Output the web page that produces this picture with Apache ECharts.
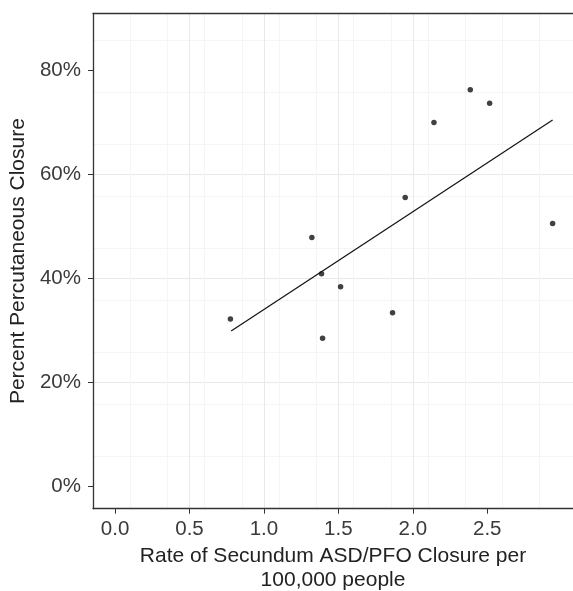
<!DOCTYPE html>
<html>
<head>
<meta charset="utf-8">
<script src="https://cdn.jsdelivr.net/npm/echarts@6/dist/echarts.min.js"></script>
<style>
  html, body { margin: 0; padding: 0; background: #fff; }
  #myChart { width: 573px; height: 591px; }
</style>
</head>
<body>
<div id="myChart"></div>
<script>
// 数据：每个州的比率 / 经皮闭合百分比
var rateX = [0.775, 1.322, 1.387, 1.394, 1.515, 1.864, 1.949, 2.142, 2.386, 2.516, 2.939];
var pctY = [32.1, 47.8, 40.8, 28.4, 38.3, 33.3, 55.5, 69.9, 76.2, 73.6, 50.5];
// 回归线两端
var fitX = [0.78, 2.939];
var fitY = [29.8, 70.4];
// 刻度
var xTicks = [0, 0.5, 1, 1.5, 2, 2.5];
var yTicks = [0, 20, 40, 60, 80];

var xMin = -0.148, xMax = 3.076;
var yMin = -4.37, yMax = 90.87;

var font = 'Liberation Sans, Arial, Helvetica, sans-serif';
var majorGrid = '#e9e9e9';
var minorGrid = '#f5f5f5';

var points = rateX.map(function (x, i) { return [x, pctY[i]]; });
var fitLine = fitX.map(function (x, i) { return [x, fitY[i]]; });

var myChart = echarts.init(document.getElementById('myChart'));
myChart.setOption({
    animation: false,
    backgroundColor: '#fff',
    grid: { left: 93, top: 13.5, right: 0, bottom: 82.3, outerBoundsMode: 'none', containLabel: false },
    xAxis: [{
        // 次网格线 + 上边框
        type: 'value', position: 'top', min: xMin, max: xMax, interval: 0.25,
        axisLine: { show: true, onZero: false, lineStyle: { color: '#333', width: 1.3 } },
        axisTick: { show: false },
        axisLabel: { show: false },
        splitLine: { show: true, showMinLine: false, showMaxLine: false, lineStyle: { color: minorGrid, width: 1 } }
    }, {
        type: 'value', position: 'bottom', min: xMin, max: xMax, interval: 0.5,
        name: 'Rate of Secundum ASD/PFO Closure per\n100,000 people',
        nameLocation: 'middle', nameGap: 35,
        nameTextStyle: { fontFamily: font, fontSize: 21, color: '#222', lineHeight: 24 },
        axisLine: { show: true, onZero: false, lineStyle: { color: '#333', width: 1.3 } },
        axisTick: { show: true, length: 5, customValues: xTicks, lineStyle: { color: '#333' } },
        axisLabel: {
            customValues: xTicks, margin: 10, fontFamily: font, fontSize: 20.5, color: '#3a3a3a',
            formatter: function (v) { return v.toFixed(1); }
        },
        splitLine: { show: true, showMinLine: false, showMaxLine: false, lineStyle: { color: majorGrid, width: 1 } }
    }],
    yAxis: [{
        type: 'value', position: 'right', min: yMin, max: yMax, interval: 10,
        axisLine: { show: false, onZero: false },
        axisTick: { show: false },
        axisLabel: { show: false },
        splitLine: { show: true, showMinLine: false, showMaxLine: false, lineStyle: { color: minorGrid, width: 1 } }
    }, {
        type: 'value', position: 'left', min: yMin, max: yMax, interval: 20,
        name: 'Percent Percutaneous Closure',
        nameLocation: 'middle', nameGap: 63,
        nameTextStyle: { fontFamily: font, fontSize: 21, color: '#222' },
        axisLine: { show: true, onZero: false, lineStyle: { color: '#333', width: 1.3 } },
        axisTick: { show: true, length: 5, customValues: yTicks, lineStyle: { color: '#333' } },
        axisLabel: {
            customValues: yTicks, margin: 12, fontFamily: font, fontSize: 20.5, color: '#3a3a3a',
            formatter: function (v) { return Math.round(v) + '%'; }
        },
        splitLine: { show: true, showMinLine: false, showMaxLine: false, lineStyle: { color: majorGrid, width: 1 } }
    }],
    series: [{
        type: 'scatter', xAxisIndex: 1, yAxisIndex: 1,
        data: points, symbolSize: 5.5,
        itemStyle: { color: '#111' }
    }, {
        type: 'line', xAxisIndex: 1, yAxisIndex: 1,
        data: fitLine, showSymbol: false, symbol: 'none',
        lineStyle: { color: '#111', width: 1.2 }
    }]
});
</script>
</body>
</html>
